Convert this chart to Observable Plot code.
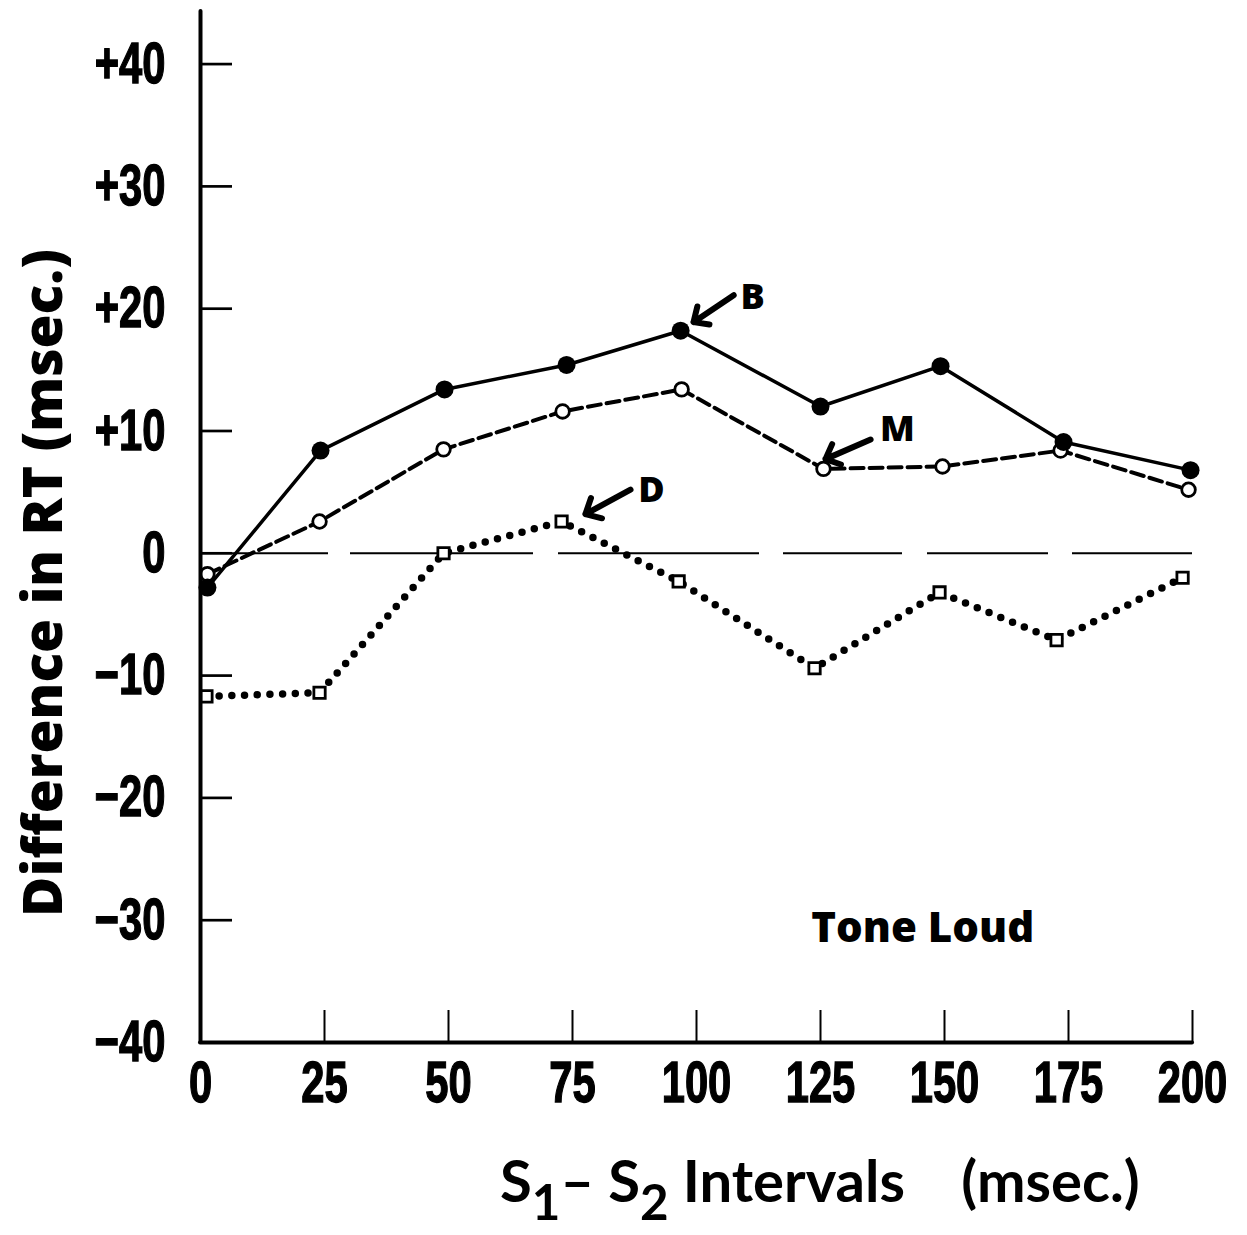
<!DOCTYPE html>
<html>
<head>
<meta charset="utf-8">
<script src="https://cdn.jsdelivr.net/npm/d3@7"></script>
<script src="https://cdn.jsdelivr.net/npm/@observablehq/plot@0.6"></script>
<style>
  body { margin: 0; background: #fff; }
  #wrap { position: relative; width: 1247px; height: 1235px; overflow: hidden; }
  #xtitle {
    position: absolute; left: 500px; top: 1150px; height: 80px;
    font: bold 58px Lato, "Open Sans", sans-serif;
    white-space: pre; line-height: 60px; color: #000;
  }
  #xtitle .sub { font-size: 0.85em; position: relative; top: 0.36em; }
</style>
</head>
<body>
<div id="wrap">
  <div id="chart"></div>
  <div id="xtitle">S<span class="sub">1</span>– S<span class="sub">2</span> Intervals    (msec.)</div>
</div>
<script>
// S1–S2 interval (msec) at which each condition was measured
const intervalsB = [1.4, 24.2, 49.2, 73.8, 96.8, 125.0, 149.2, 174.0, 199.6];
const intervalsM = [1.4, 24.0, 49.0, 73.0, 97.0, 125.6, 149.6, 173.4, 199.2];
const intervalsD = [1.2, 24.0, 49.0, 72.8, 96.4, 123.8, 149.0, 172.6, 198.0];

// Difference in RT (msec) for each condition
const diffB = [-2.8, 8.4, 13.4, 15.4, 18.2, 12.0, 15.3, 9.1, 6.8];
const diffM = [-1.7, 2.6, 8.5, 11.6, 13.4, 6.9, 7.1, 8.4, 5.2];
const diffD = [-11.7, -11.4, 0.0, 2.6, -2.3, -9.4, -3.2, -7.1, -2.0];

// Axis ticks
const xTickValues = [0, 25, 50, 75, 100, 125, 150, 175, 200];
const xTickLabels = ["0", "25", "50", "75", "100", "125", "150", "175", "200"];
const yTickValues = [-40, -30, -20, -10, 0, 10, 20, 30, 40];
const yTickLabels = ["−40", "−30", "−20", "−10", "0", "+10", "+20", "+30", "+40"];

// Series call-outs: letter position and arrow (tail → head), in data units
const pointerNames = ["B", "M", "D"];
const pointerLabelX = [111.3, 140.5, 90.9];
const pointerLabelY = [20.9, 10.1, 5.1];
const pointerTailX = [107.5, 135.1, 86.7];
const pointerTailY = [21.1, 9.3, 5.2];
const pointerHeadX = [99.4, 126.0, 77.6];
const pointerHeadY = [18.9, 7.7, 3.2];

const condition = "Tone Loud";
const conditionX = 145.6;
const conditionY = -30.7;

const rows = (xs, ys) => xs.map((x, i) => ({x, y: ys[i]}));
const B = rows(intervalsB, diffB);
const M = rows(intervalsM, diffM);
const D = rows(intervalsD, diffD);
const pointers = pointerNames.map((name, i) => ({
  name,
  lx: pointerLabelX[i], ly: pointerLabelY[i],
  tx: pointerTailX[i], ty: pointerTailY[i],
  hx: pointerHeadX[i], hy: pointerHeadY[i]
}));

const W = 1247, H = 1140;
const tickFont = '"Liberation Sans", Arial, sans-serif';
const heavyFont = '"Open Sans", Lato, sans-serif';

const chart = Plot.plot({
  width: W,
  height: H,
  marginLeft: 200,
  marginRight: 55,
  marginTop: 11,
  marginBottom: H - 1042,
  x: {domain: [0, 200]},
  y: {domain: [-40, 44.3]},
  style: {background: "white", color: "black", overflow: "visible"},
  marks: [
    // zero reference line, long broken dashes
    Plot.ruleY([0], {x1: 0, x2: 200, strokeWidth: 2,
      strokeDasharray: "128,22,183,25,201,24,119,25,121,24,121"}),

    // D: dotted line with open squares
    Plot.line(D, {x: "x", y: "y", stroke: "black", strokeWidth: 7.5,
      strokeDasharray: "0,12.7", strokeLinecap: "round"}),
    // M: dashed line with open circles
    Plot.line(M, {x: "x", y: "y", stroke: "black", strokeWidth: 4,
      strokeDasharray: "13,6"}),
    // B: solid line with filled circles
    Plot.line(B, {x: "x", y: "y", stroke: "black", strokeWidth: 3.5}),

    Plot.dot(D, {x: "x", y: "y", symbol: "square", r: 6.4,
      fill: "white", stroke: "black", strokeWidth: 2.8}),
    Plot.dot(M, {x: "x", y: "y", r: 6.8,
      fill: "white", stroke: "black", strokeWidth: 2.8}),
    Plot.dot(B, {x: "x", y: "y", r: 9, fill: "black"}),

    // series call-outs
    Plot.arrow(pointers, {x1: "tx", y1: "ty", x2: "hx", y2: "hy",
      stroke: "black", strokeWidth: 6, headLength: 15, headAngle: 85}),
    Plot.text(pointers, {x: "lx", y: "ly", text: "name",
      fontFamily: heavyFont, fontWeight: 800, fontSize: 36, fill: "black"}),

    Plot.text([condition], {x: () => conditionX, y: () => conditionY,
      fontFamily: heavyFont, fontWeight: 800, fontSize: 42, fill: "black"}),

    // y-axis title
    Plot.text(["Difference in RT (msec.)"], {frameAnchor: "left", rotate: -90,
      textAnchor: "middle", dx: -156, dy: 56, fontFamily: heavyFont,
      fontWeight: 800, fontSize: 55, fill: "black"}),

    // axis lines
    Plot.ruleX([0], {strokeWidth: 4, strokeLinecap: "round"}),
    Plot.ruleY([-40], {strokeWidth: 4, strokeLinecap: "round"}),

    // ticks pointing into the plot, bold condensed labels
    Plot.axisY({ticks: yTickValues, tickSize: -32, tickPadding: 67,
      strokeWidth: 2.7, label: null,
      tickFormat: d => yTickLabels[yTickValues.indexOf(d)],
      fontFamily: tickFont, fontWeight: "bold", fontSize: 58}),
    Plot.axisX({ticks: xTickValues, tickSize: -32, tickPadding: 50,
      strokeWidth: 2, label: null,
      tickFormat: d => xTickLabels[xTickValues.indexOf(d)],
      fontFamily: tickFont, fontWeight: "bold", fontSize: 58})
  ]
});

// narrow and embolden the tick numerals to a heavy condensed face
d3.select(chart)
  .selectAll('g[aria-label="y-axis tick label"] text, g[aria-label="x-axis tick label"] text')
  .attr("stroke", "black")
  .attr("stroke-width", 1.4)
  .attr("transform", function () {
    const t = this.getAttribute("transform") || "";
    return t + " scale(0.72,1)";
  });

document.getElementById("chart").appendChild(chart);
</script>
</body>
</html>
